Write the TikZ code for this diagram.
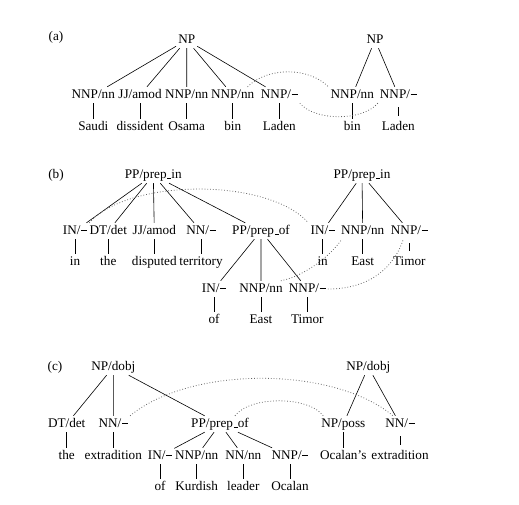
\documentclass[tikz,border=0pt]{standalone}
\usepackage{fontspec}
\setmainfont{Liberation Serif}
\newcommand{\nil}{\kern.05em\rule[.22em]{.45em}{1.2pt}}
\newcommand{\us}{\kern.06em\vbox{\hrule width.3em}}

\begin{document}
\begin{tikzpicture}[x=1pt, y=-1pt,
        every node/.style={font=\fontsize{13.2}{16}\selectfont, inner sep=2pt,
            text height=9pt, text depth=3pt},
        edge/.style={line width=0.6pt},
        leaf/.style={line width=0.6pt, shorten <=4pt, shorten >=2.5pt},
        link/.style={dotted, line width=0.8pt, black!60}]
    \useasboundingbox (0,0) rectangle (519,504);

    % (a)
    \node (alabel) at (56,37) {(a)};
    \node (aroot) at (186.7,40) {NP};
    \node (a1) at (93.3,95) {NNP/nn};
    \node (a2) at (140,95) {JJ/amod};
    \node (a3) at (186.7,95) {NNP/nn};
    \node (a4) at (232.7,95) {NNP/nn};
    \node (a5) at (279.3,95) {NNP/\nil};
    \node (a1w) at (93.3,127) {Saudi};
    \node (a2w) at (140,127) {dissident};
    \node (a3w) at (186.7,127) {Osama};
    \node (a4w) at (232.7,127) {bin};
    \node (a5w) at (279.3,127) {Laden};
    \node (aroot2) at (375,40) {NP};
    \node (a6) at (352.3,95) {NNP/nn};
    \node (a7) at (398.3,95) {NNP/\nil};
    \node (a6w) at (352.3,127) {bin};
    \node (a7w) at (398.3,127) {Laden};
    \draw[edge] (aroot) -- (a1) (aroot) -- (a2) (aroot) -- (a3)
        (aroot) -- (a4) (aroot) -- (a5);
    \draw[edge] (aroot2) -- (a6) (aroot2) -- (a7);
    \draw[leaf] (a1) -- (a1w) (a2) -- (a2w) (a3) -- (a3w) (a4) -- (a4w)
        (a5) -- (a5w) (a6) -- (a6w) (a7) -- (a7w);
    \draw[link] ([xshift=-9pt]a4.north east) .. controls +(20,-20) and +(-20,-20) .. (a6.north west);
    \draw[link] (a5.south east) .. controls +(15,18) and +(-15,18) .. (a7.south west);

    % (b)
    \node (blabel) at (56,175) {(b)};
    \node (broot) at (153.3,175) {PP/prep\us in};
    \node (b1) at (75,231) {IN/\nil};
    \node (b2) at (108.3,231) {DT/det};
    \node (b3) at (154.3,231) {JJ/amod};
    \node (b4) at (201,231) {NN/\nil};
    \node (b5) at (261,231) {PP/prep\us of};
    \node (b1w) at (75,262) {in};
    \node (b2w) at (108.3,262) {the};
    \node (b3w) at (154.3,262) {disputed};
    \node (b4w) at (201,262) {territory};
    \node (b6) at (214,289) {IN/\nil};
    \node (b7) at (261,289) {NNP/nn};
    \node (b8) at (307.3,289) {NNP/\nil};
    \node (b6w) at (214,320) {of};
    \node (b7w) at (261,320) {East};
    \node (b8w) at (307.3,320) {Timor};
    \node (broot2) at (362,175) {PP/prep\us in};
    \node (b9) at (322.7,231) {IN/\nil};
    \node (b10) at (362.7,231) {NNP/nn};
    \node (b11) at (409.3,231) {NNP/\nil};
    \node (b9w) at (322.7,262) {in};
    \node (b10w) at (362.7,262) {East};
    \node (b11w) at (409.3,262) {Timor};
    \draw[edge] (broot) -- (b1) (broot) -- (b2) (broot) -- (b3)
        (broot) -- (b4) (broot) -- (b5);
    \draw[edge] (b5) -- (b6) (b5) -- (b7) (b5) -- (b8);
    \draw[edge] (broot2) -- (b9) (broot2) -- (b10) (broot2) -- (b11);
    \draw[leaf] (b1) -- (b1w) (b2) -- (b2w) (b3) -- (b3w) (b4) -- (b4w)
        (b6) -- (b6w) (b7) -- (b7w) (b8) -- (b8w)
        (b9) -- (b9w) (b10) -- (b10w) (b11) -- (b11w);
    \draw[link] (b1.north east) .. controls +(40,-45) and +(-40,-45) .. (b9.north west);
    \draw[link] ([xshift=-4pt]b7.north east) .. controls +(25,-5) and +(-10,15) .. ([xshift=3pt]b10.south west);
    \draw[link] (b8.east) .. controls +(45,0) and +(-8,25) .. ([xshift=-6pt]b11.south);

    % (c)
    \node (clabel) at (55,367) {(c)};
    \node (croot) at (113.3,367) {NP/dobj};
    \node (c1) at (66.7,424) {DT/det};
    \node (c2) at (113.3,424) {NN/\nil};
    \node (c3) at (220,424) {PP/prep\us of};
    \node (c1w) at (66.7,456) {the};
    \node (c2w) at (113.3,456) {extradition};
    \node (c4) at (160,456) {IN/\nil};
    \node (c5) at (196.7,456) {NNP/nn};
    \node (c6) at (243.3,456) {NN/nn};
    \node (c7) at (290,456) {NNP/\nil};
    \node (c4w) at (160,487) {of};
    \node (c5w) at (196.7,487) {Kurdish};
    \node (c6w) at (243.3,487) {leader};
    \node (c7w) at (290,487) {Ocalan};
    \node (croot2) at (368.3,367) {NP/dobj};
    \node (c8) at (343.3,424) {NP/poss};
    \node (c9) at (400,424) {NN/\nil};
    \node (c8w) at (343.3,456) {Ocalan's};
    \node (c9w) at (400,456) {extradition};
    \draw[edge] (croot) -- (c1) (croot) -- (c2) (croot) -- (c3);
    \draw[edge] (c3) -- (c4) (c3) -- (c5) (c3) -- (c6) (c3) -- (c7);
    \draw[edge] (croot2) -- (c8) (croot2) -- (c9);
    \draw[leaf] (c1) -- (c1w) (c2) -- (c2w) (c4) -- (c4w) (c5) -- (c5w)
        (c6) -- (c6w) (c7) -- (c7w) (c8) -- (c8w) (c9) -- (c9w);
    \draw[link] (c2.north east) .. controls +(60,-50) and +(-60,-50) .. ([xshift=-7pt]c9.north);
    \draw[link] ([xshift=15pt]c3.north) .. controls +(15,-20) and +(-15,-20) .. ([xshift=-20pt]c8.north);
\end{tikzpicture}
\end{document}
